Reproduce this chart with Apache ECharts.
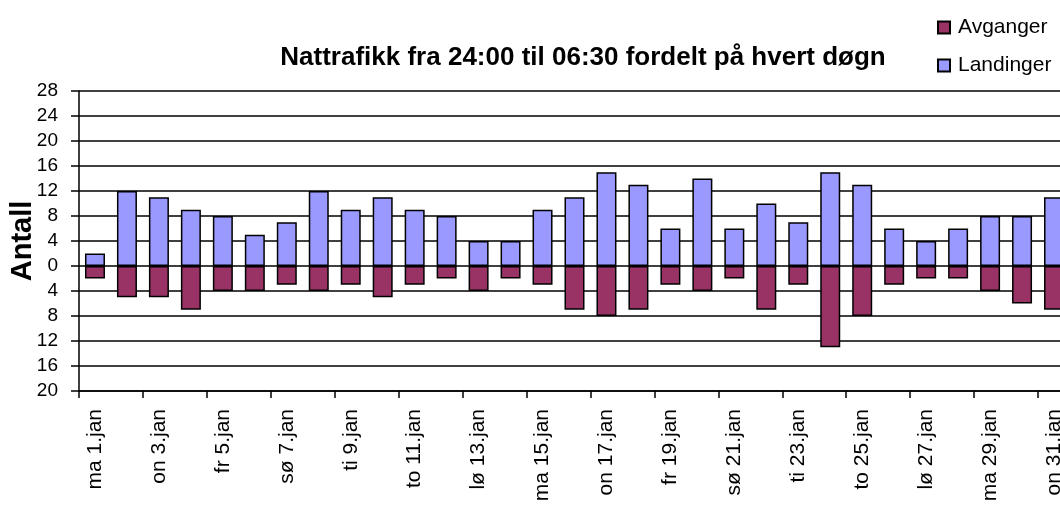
<!DOCTYPE html>
<html>
<head>
<meta charset="utf-8">
<script src="https://cdn.jsdelivr.net/npm/echarts@6/dist/echarts.min.js"></script>
<style>
html,body{margin:0;padding:0;background:#fff;}
#chart{width:1060px;height:506px;}
</style>
</head>
<body>
<div id="chart"></div>
<script>
var categories = ["ma 1.jan","ti 2.jan","on 3.jan","to 4.jan","fr 5.jan","lø 6.jan","sø 7.jan","ma 8.jan","ti 9.jan","on 10.jan","to 11.jan","fr 12.jan","lø 13.jan","sø 14.jan","ma 15.jan","ti 16.jan","on 17.jan","to 18.jan","fr 19.jan","lø 20.jan","sø 21.jan","ma 22.jan","ti 23.jan","on 24.jan","to 25.jan","fr 26.jan","lø 27.jan","sø 28.jan","ma 29.jan","ti 30.jan","on 31.jan"];
var landinger = [2,12,11,9,8,5,7,12,9,11,9,8,4,4,9,11,15,13,6,14,6,10,7,15,13,6,4,6,8,8,11];
var avganger = [2,5,5,7,4,4,3,4,3,5,3,2,4,2,3,7,8,7,3,4,2,7,3,13,8,3,2,2,4,6,7];
var yMin = -20, yMax = 28, yStep = 4;

var FONT = "'Liberation Sans', Arial, Helvetica, sans-serif";
var chart = echarts.init(document.getElementById('chart'), null, {renderer: 'canvas'});
chart.setOption({
  animation: false,
  backgroundColor: '#fff',
  title: {
    text: 'Nattrafikk fra 24:00 til 06:30 fordelt på hvert døgn',
    left: 578, top: 40, textAlign: 'center',
    textStyle: {fontFamily: FONT, fontWeight: 'bold', fontSize: 26, color: '#000'}
  },
  legend: {
    orient: 'vertical', left: 937, top: 17, padding: 0,
    itemWidth: 12, itemHeight: 12, itemGap: 17,
    icon: 'rect',
    textStyle: {fontFamily: FONT, fontSize: 21, color: '#000', padding: [0,0,0,3]},
    data: ['Avganger', 'Landinger']
  },
  grid: {left: 79, top: 91, width: 991, height: 300, containLabel: false, outerBoundsMode: 'none'},
  xAxis: {
    type: 'category', data: categories, boundaryGap: true,
    axisLine: {show: true, onZero: false, lineStyle: {color: '#000', width: 1.5}},
    axisTick: {show: true, interval: 1, length: 7, lineStyle: {color: '#000', width: 1.5}},
    axisLabel: {interval: 1, rotate: 90, margin: 18, fontFamily: FONT, fontSize: 21, color: '#000'},
    splitLine: {show: false}
  },
  yAxis: {
    type: 'value', min: yMin, max: yMax, interval: yStep,
    name: 'Antall', nameLocation: 'middle', nameGap: 42, nameRotate: 90, nameMoveOverlap: false,
    nameTextStyle: {fontFamily: FONT, fontWeight: 'bold', fontSize: 29, color: '#000'},
    axisLine: {show: true, lineStyle: {color: '#000', width: 1.5}},
    axisTick: {show: true, length: 8, lineStyle: {color: '#000', width: 1.5}},
    axisLabel: {margin: 21, fontFamily: FONT, fontSize: 19, color: '#000',
      formatter: function (v) { return String(Math.abs(v)); }},
    splitLine: {show: true, lineStyle: {color: '#000', width: 1.5}}
  },
  series: [
    {
      name: 'Avganger', type: 'bar', stack: 'tot', barWidth: 20,
      data: avganger.map(function (v) { return -v; }),
      itemStyle: {color: '#993366', borderColor: '#000', borderWidth: 1.5}
    },
    {
      name: 'Landinger', type: 'bar', stack: 'tot', barWidth: 20,
      data: landinger,
      itemStyle: {color: '#9999FF', borderColor: '#000', borderWidth: 1.5}
    }
  ]
});
</script>
</body>
</html>
